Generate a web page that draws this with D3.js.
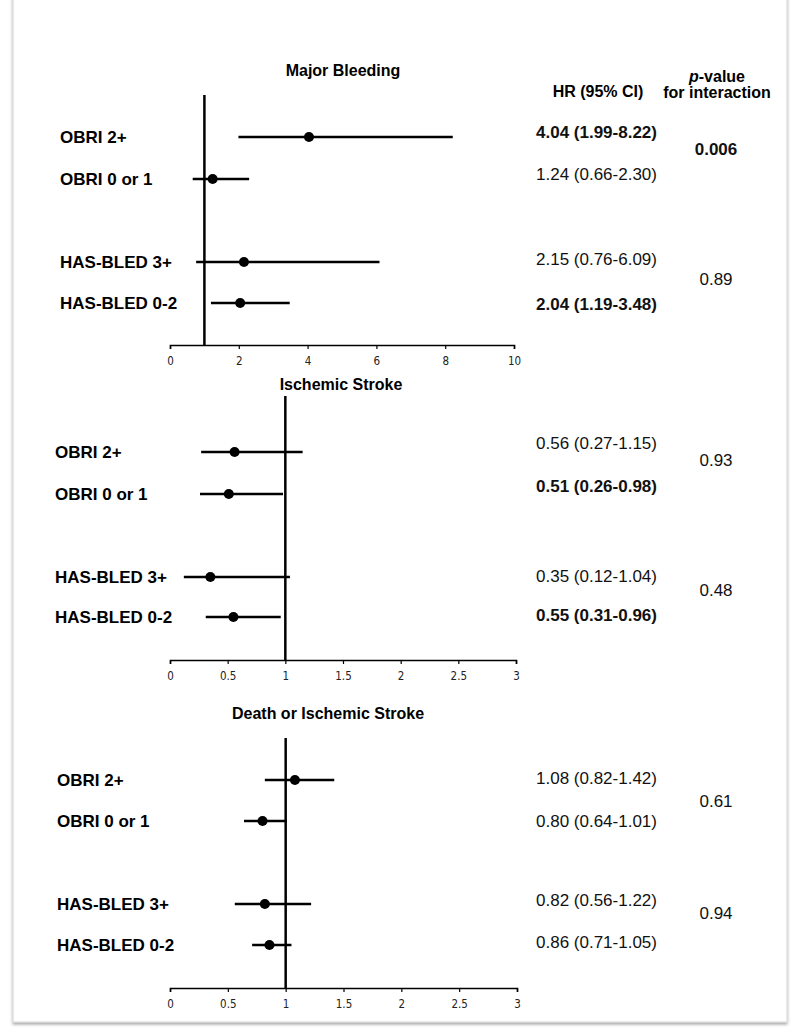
<!DOCTYPE html>
<html><head><meta charset="utf-8">
<script src="https://cdn.jsdelivr.net/npm/d3@7"></script>
<style>body{margin:0;background:#fff}svg{display:block}</style>
</head><body>
<script>
// ---------- data ----------
const panelTitles = ["Major Bleeding", "Ischemic Stroke", "Death or Ischemic Stroke"];
const groups = ["OBRI 2+", "OBRI 0 or 1", "HAS-BLED 3+", "HAS-BLED 0-2"];
const hrMajorBleeding = [4.04, 1.24, 2.15, 2.04];
const loMajorBleeding = [1.99, 0.66, 0.76, 1.19];
const hiMajorBleeding = [8.22, 2.30, 6.09, 3.48];
const boldMajorBleeding = [true, false, false, true];
const pMajorBleeding = ["0.006", "0.89"];
const pBoldMajorBleeding = [true, false];

const hrIschemic = [0.56, 0.51, 0.35, 0.55];
const loIschemic = [0.27, 0.26, 0.12, 0.31];
const hiIschemic = [1.15, 0.98, 1.04, 0.96];
const boldIschemic = [false, true, false, true];
const pIschemic = ["0.93", "0.48"];
const pBoldIschemic = [false, false];

const hrDeath = [1.08, 0.80, 0.82, 0.86];
const loDeath = [0.82, 0.64, 0.56, 0.71];
const hiDeath = [1.42, 1.01, 1.22, 1.05];
const boldDeath = [false, false, false, false];
const pDeath = ["0.61", "0.94"];
const pBoldDeath = [false, false];

const ticksMajorBleeding = [0, 2, 4, 6, 8, 10];
const ticksOther = [0, 0.5, 1, 1.5, 2, 2.5, 3];
const axisMaxes = [10, 3, 3];

// ---------- layout ----------
const W = 800, H = 1036;
const svg = d3.select("body").append("svg").attr("width", W).attr("height", H);
const defs = svg.append("defs");
const f = defs.append("filter").attr("id", "sh").attr("x", "-5%").attr("y", "-5%").attr("width", "110%").attr("height", "110%");
f.append("feDropShadow").attr("dx", 0).attr("dy", 2).attr("stdDeviation", 1.5).attr("flood-color", "#000").attr("flood-opacity", 0.35);
svg.append("rect").attr("x", 13).attr("y", -10).attr("width", 774).attr("height", 1032)
  .attr("fill", "#fff").attr("stroke", "#d4d4d4").attr("stroke-width", 1).attr("filter", "url(#sh)");

const FONT = "'Liberation Sans', Arial, sans-serif";
const FS = 17;

const panels = [
  {title: panelTitles[0], titleX: 343, titleY: 76, top: 95, axisY: 345, labelX: 60, rows: [137, 179, 262, 303], hrY: [132, 174, 259, 304], pY: [149, 279],
   hr: hrMajorBleeding, lo: loMajorBleeding, hi: hiMajorBleeding, bold: boldMajorBleeding, p: pMajorBleeding, pb: pBoldMajorBleeding,
   ticks: ticksMajorBleeding, max: axisMaxes[0], x1: 514},
  {title: panelTitles[1], titleX: 341, titleY: 390, top: 396, axisY: 660, labelX: 55, rows: [452, 494, 577, 617], hrY: [443, 486, 576, 615], pY: [460, 590],
   hr: hrIschemic, lo: loIschemic, hi: hiIschemic, bold: boldIschemic, p: pIschemic, pb: pBoldIschemic,
   ticks: ticksOther, max: axisMaxes[1], x1: 516},
  {title: panelTitles[2], titleX: 328, titleY: 719, top: 738, axisY: 988, labelX: 57, rows: [780, 821, 904, 945], hrY: [778, 821, 900, 942], pY: [801, 913],
   hr: hrDeath, lo: loDeath, hi: hiDeath, bold: boldDeath, p: pDeath, pb: pBoldDeath,
   ticks: ticksOther, max: axisMaxes[2], x1: 517}
];

panels.forEach((P, i) => {
  const g = svg.append("g");
  const x = d3.scaleLinear().domain([0, P.max]).range([170, P.x1]);
  // title
  g.append("text").attr("x", P.titleX).attr("y", P.titleY).attr("text-anchor", "middle")
    .attr("font-family", FONT).attr("font-weight", "bold").attr("font-size", 16).text(P.title);
  // axis
  const ax = g.append("g").attr("transform", `translate(0,${P.axisY})`)
    .call(d3.axisBottom(x).tickValues(P.ticks).tickSize(4).tickSizeOuter(4).tickPadding(8).tickFormat(d3.format("~g")));
  ax.select(".domain").attr("stroke", "#000").attr("stroke-width", 1.6);
  ax.selectAll(".tick line").attr("stroke", "#000").attr("stroke-width", 1.2);
  ax.selectAll(".tick text").attr("font-family", "'DejaVu Sans Condensed', 'Liberation Sans', sans-serif").attr("font-size", 11.5).attr("fill", "#222");
  // reference line
  g.append("line").attr("x1", x(1)).attr("x2", x(1)).attr("y1", P.top).attr("y2", P.axisY)
    .attr("stroke", "#000").attr("stroke-width", 2.5);
  // rows
  groups.forEach((name, j) => {
    const y = P.rows[j];
    g.append("text").attr("x", P.labelX).attr("y", y + 6).attr("font-family", FONT).attr("font-weight", "bold")
      .attr("font-size", FS).text(name);
    g.append("line").attr("x1", x(P.lo[j])).attr("x2", x(P.hi[j])).attr("y1", y).attr("y2", y)
      .attr("stroke", "#000").attr("stroke-width", 2.6);
    g.append("circle").attr("cx", x(P.hr[j])).attr("cy", y).attr("r", 5).attr("fill", "#000");
    g.append("text").attr("x", 536).attr("y", P.hrY[j] + 6).attr("font-family", FONT)
      .attr("font-weight", P.bold[j] ? "bold" : "normal").attr("font-size", FS).attr("fill", "#111")
      .text(`${P.hr[j].toFixed(2)} (${P.lo[j].toFixed(2)}-${P.hi[j].toFixed(2)})`);
  });
  P.p.forEach((pv, k) => {
    g.append("text").attr("x", 716).attr("y", P.pY[k] + 6).attr("text-anchor", "middle").attr("font-family", FONT)
      .attr("font-weight", P.pb[k] ? "bold" : "normal").attr("font-size", FS).attr("fill", "#111").text(pv);
  });
});

// column headers
svg.append("text").attr("x", 598).attr("y", 97).attr("text-anchor", "middle").attr("font-family", FONT)
  .attr("font-weight", "bold").attr("font-size", 16).text("HR (95% CI)");
const ph = svg.append("text").attr("x", 717).attr("y", 82).attr("text-anchor", "middle").attr("font-family", FONT)
  .attr("font-weight", "bold").attr("font-size", 16);
ph.append("tspan").attr("font-style", "italic").text("p");
ph.append("tspan").text("-value");
svg.append("text").attr("x", 717).attr("y", 98).attr("text-anchor", "middle").attr("font-family", FONT)
  .attr("font-weight", "bold").attr("font-size", 16).text("for interaction");
</script>
</body></html>
